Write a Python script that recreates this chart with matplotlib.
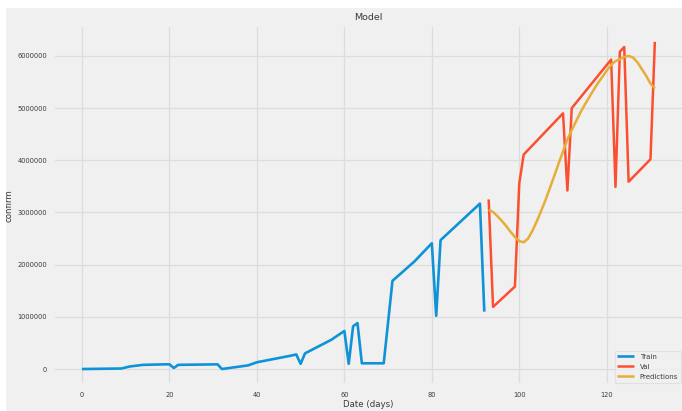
import matplotlib
matplotlib.use("Agg")
import matplotlib.pyplot as plt
from matplotlib.patches import Rectangle
from matplotlib.ticker import FuncFormatter

# Confirmed cases by day: training window, validation window and model predictions
train_days = [0, 9, 11, 14, 19, 20, 21, 22, 31, 32, 38, 39, 40, 48, 49, 50, 51,
              57, 60, 61, 62, 63, 64, 69, 71, 76, 80, 81, 82, 91, 92]
train_confirm = [0, 10000, 50000, 80000, 90000, 90000, 20000, 80000, 90000, 0,
                 70000, 100000, 130000, 260000, 280000, 100000, 300000,
                 560000, 730000, 100000, 820000, 880000, 110000, 110000,
                 1690000, 2060000, 2410000, 1020000, 2470000, 3170000, 1100000]

val_days = [93, 94, 99, 100, 101, 110, 111, 112, 121, 122, 123, 124, 125, 130, 131]
val_confirm = [3250000, 1190000, 1580000, 3560000, 4110000, 4900000, 3420000,
               5000000, 5930000, 3490000, 6080000, 6170000, 3590000, 4020000,
               6270000]

pred_days = list(range(93, 132))
pred_confirm = [3050000, 3010000, 2930000, 2840000, 2740000, 2630000, 2530000,
                2450000, 2430000, 2500000, 2650000, 2830000, 3030000, 3240000,
                3470000, 3700000, 3940000, 4170000, 4400000, 4580000, 4750000,
                4920000, 5070000, 5210000, 5350000, 5480000, 5600000, 5720000,
                5830000, 5900000, 5940000, 5980000, 6000000, 5970000, 5880000,
                5750000, 5620000, 5470000, 5380000]

x_ticks = [0, 20, 40, 60, 80, 100, 120]
y_ticks = [0, 1000000, 2000000, 3000000, 4000000, 5000000, 6000000]

plt.style.use("fivethirtyeight")
text_color = "#3a3a3a"

fig = plt.figure(figsize=(6.82, 4.11), dpi=100)
ax = fig.add_axes([0.0782, 0.0623, 0.924, 0.8757])

ax.plot(train_days, train_confirm, color="#0f93d6", lw=1.9, label="Train")
ax.plot(val_days, val_confirm, color="#fc4f30", lw=1.8, label="Val")
ax.plot(pred_days, pred_confirm, color="#e5ae38", lw=1.8, label="Predictions")

ax.set_xticks(x_ticks)
ax.set_yticks(y_ticks)
ax.yaxis.set_major_formatter(FuncFormatter(lambda v, p: f"{int(round(v))}"))
ax.tick_params(axis="both", labelsize=4.8, colors=text_color, pad=4.5)
ax.grid(True, color="#dcdcdc", linewidth=0.9)

ax.set_title("Model", fontsize=6.8, color=text_color, pad=4)
ax.set_xlabel("Date (days)", fontsize=6.2, color=text_color, labelpad=2)
ax.set_ylabel("confirm", fontsize=6.2, color=text_color, labelpad=3)

leg = ax.legend(loc="lower right", fontsize=5, handlelength=2.4,
                borderaxespad=0.4, labelspacing=0.6, fancybox=True)
for t in leg.get_texts():
    t.set_color(text_color)
leg.get_frame().set_edgecolor("#dddddd")
leg.get_frame().set_linewidth(0.8)

# page margin around the pasted figure
fig.add_artist(Rectangle((0, 403 / 411), 1, 8 / 411, transform=fig.transFigure,
                         facecolor="white", edgecolor="none", zorder=10))
fig.add_artist(Rectangle((0, 0), 6 / 682, 1, transform=fig.transFigure,
                         facecolor="white", edgecolor="none", zorder=10))

fig.savefig("out.png", dpi=100, facecolor="#f0f0f0")
